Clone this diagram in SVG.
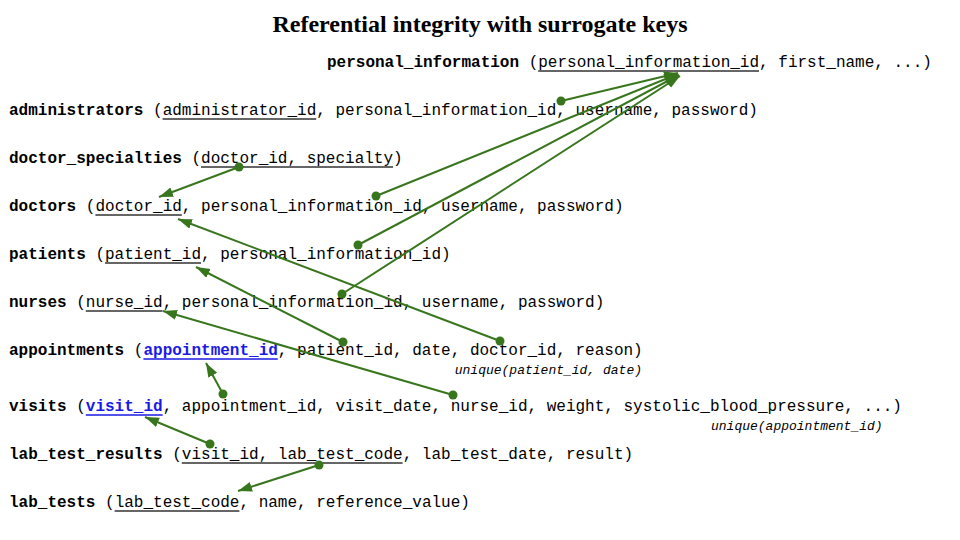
<svg xmlns="http://www.w3.org/2000/svg" width="960" height="540" viewBox="0 0 960 540">
<style>
.t{font-family:"Liberation Mono","DejaVu Sans Mono",monospace;font-size:16px;fill:#000;white-space:pre}
.b{font-weight:bold}
.k{font-weight:bold;fill:#1a1ae6}
.u{stroke:#333;stroke-width:1.3}
.ku{stroke:#1a1ae6;stroke-width:1.3}
.n{font-family:"Liberation Mono","DejaVu Sans Mono",monospace;font-size:13px;font-style:italic;fill:#000}
.c line{stroke:#38761d;stroke-width:2;marker-end:url(#ah)}
.c circle{fill:#38761d}
</style>
<defs>
<marker id="ah" markerUnits="userSpaceOnUse" markerWidth="15" markerHeight="11" refX="14" refY="5" orient="auto" viewBox="0 0 15 11">
<path d="M0,0 L14,5 L0,10 z" fill="#38761d"/>
</marker>
</defs>
<rect width="960" height="540" fill="#fff"/>
<text x="480" y="32" text-anchor="middle" font-family="Liberation Serif,serif" font-weight="bold" font-size="24">Referential integrity with surrogate keys</text>

<g id="personal_information">
<text class="t" x="327" y="67"><tspan class="b">personal_information</tspan> (personal_information_id, first_name, ...)</text>
<line class="u" x1="538.2" y1="71" x2="759" y2="71"/>
</g>
<g id="administrators">
<text class="t" x="9" y="115"><tspan class="b">administrators</tspan> (administrator_id, personal_information_id, username, password)</text>
<line class="u" x1="162.6" y1="119" x2="316.2" y2="119"/>
</g>
<g id="doctor_specialties">
<text class="t" x="9" y="163"><tspan class="b">doctor_specialties</tspan> (doctor_id, specialty)</text>
<line class="u" x1="201" y1="167" x2="393" y2="167"/>
</g>
<g id="doctors">
<text class="t" x="9" y="211"><tspan class="b">doctors</tspan> (doctor_id, personal_information_id, username, password)</text>
<line class="u" x1="95.4" y1="215" x2="181.8" y2="215"/>
</g>
<g id="patients">
<text class="t" x="9" y="259"><tspan class="b">patients</tspan> (patient_id, personal_information_id)</text>
<line class="u" x1="105" y1="263" x2="201" y2="263"/>
</g>
<g id="nurses">
<text class="t" x="9" y="307"><tspan class="b">nurses</tspan> (nurse_id, personal_information_id, username, password)</text>
<line class="u" x1="85.8" y1="311" x2="162.6" y2="311"/>
</g>
<g id="appointments">
<text class="t" x="9" y="355"><tspan class="b">appointments</tspan> (<tspan class="k">appointment_id</tspan>, patient_id, date, doctor_id, reason)</text>
<line class="ku" x1="143.4" y1="359" x2="277.8" y2="359"/>
<text class="n" x="642" y="374" text-anchor="end">unique(patient_id, date)</text>
</g>
<g id="visits">
<text class="t" x="9" y="411"><tspan class="b">visits</tspan> (<tspan class="k">visit_id</tspan>, appointment_id, visit_date, nurse_id, weight, systolic_blood_pressure, ...)</text>
<line class="ku" x1="85.8" y1="415" x2="162.6" y2="415"/>
<text class="n" x="711" y="430">unique(appointment_id)</text>
</g>
<g id="lab_test_results">
<text class="t" x="9" y="459"><tspan class="b">lab_test_results</tspan> (visit_id, lab_test_code, lab_test_date, result)</text>
<line class="u" x1="181.8" y1="463" x2="402.6" y2="463"/>
</g>
<g id="lab_tests">
<text class="t" x="9" y="507"><tspan class="b">lab_tests</tspan> (lab_test_code, name, reference_value)</text>
<line class="u" x1="114.6" y1="511" x2="239.4" y2="511"/>
</g>

<g id="connectors" class="c">
<line x1="561" y1="101" x2="678" y2="73"/><circle cx="561" cy="101" r="4.5"/>
<line x1="376" y1="196" x2="678" y2="74"/><circle cx="376" cy="196" r="4.5"/>
<line x1="358" y1="245" x2="679" y2="75"/><circle cx="358" cy="245" r="4.5"/>
<line x1="342" y1="294" x2="680" y2="76"/><circle cx="342" cy="294" r="4.5"/>
<line x1="239" y1="167" x2="159" y2="197"/><circle cx="239" cy="167" r="4.5"/>
<line x1="500" y1="341" x2="178" y2="219"/><circle cx="500" cy="341" r="4.5"/>
<line x1="343" y1="342" x2="196" y2="267"/><circle cx="343" cy="342" r="4.5"/>
<line x1="453" y1="395" x2="163" y2="311"/><circle cx="453" cy="395" r="4.5"/>
<line x1="223" y1="394" x2="206" y2="363"/><circle cx="223" cy="394" r="4.5"/>
<line x1="210" y1="444" x2="145" y2="417"/><circle cx="210" cy="444" r="4.5"/>
<line x1="319" y1="465" x2="238" y2="491"/><circle cx="319" cy="465" r="4.5"/>
</g>
</svg>
